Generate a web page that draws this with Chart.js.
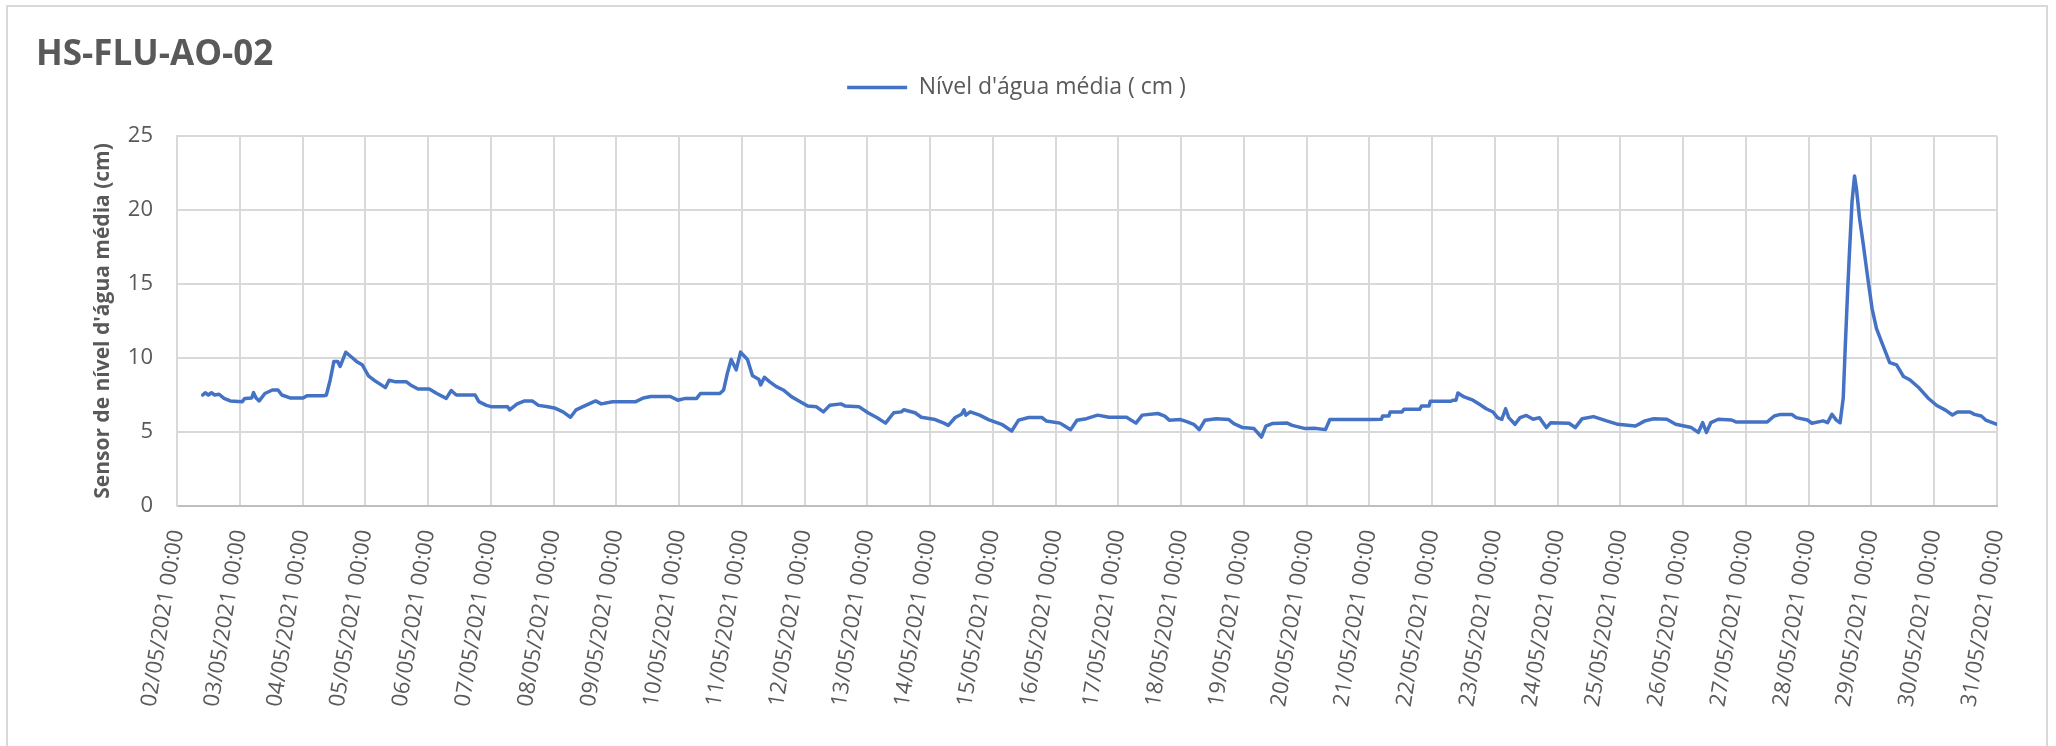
<!DOCTYPE html>
<html>
<head>
<meta charset="utf-8">
<title>HS-FLU-AO-02</title>
<script src="https://cdn.jsdelivr.net/npm/chart.js@4.4.1/dist/chart.umd.min.js"></script>
<style>
  html, body { margin: 0; padding: 0; background: #fff; overflow: hidden; }
  #moldura { position: absolute; left: 6px; top: 5px; width: 2042px; height: 770px; border: 2px solid #d9d9d9; box-sizing: border-box; }
  #grafico { position: absolute; left: 0; top: 0; }
</style>
</head>
<body>
<div id="moldura"></div>
<canvas id="grafico" width="2056" height="746"></canvas>
<script>
// Rótulos do eixo X (um por dia)
const rotulosDias = [
    "02/05/2021 00:00", "03/05/2021 00:00", "04/05/2021 00:00", "05/05/2021 00:00", "06/05/2021 00:00",
    "07/05/2021 00:00", "08/05/2021 00:00", "09/05/2021 00:00", "10/05/2021 00:00", "11/05/2021 00:00",
    "12/05/2021 00:00", "13/05/2021 00:00", "14/05/2021 00:00", "15/05/2021 00:00", "16/05/2021 00:00",
    "17/05/2021 00:00", "18/05/2021 00:00", "19/05/2021 00:00", "20/05/2021 00:00", "21/05/2021 00:00",
    "22/05/2021 00:00", "23/05/2021 00:00", "24/05/2021 00:00", "25/05/2021 00:00", "26/05/2021 00:00",
    "27/05/2021 00:00", "28/05/2021 00:00", "29/05/2021 00:00", "30/05/2021 00:00", "31/05/2021 00:00"
];

// Tempo das leituras (dias desde 02/05/2021 00:00)
const tempoDias = [
    0.41, 0.45, 0.50, 0.55, 0.60, 0.67, 0.75, 0.85, 1.04, 1.08, 1.19, 1.22, 1.26, 1.31, 1.40, 1.52, 1.61, 1.67, 1.80, 2.01,
    2.07, 2.34, 2.38, 2.44, 2.50, 2.56, 2.60, 2.69, 2.77, 2.86, 2.95, 3.05, 3.14, 3.23, 3.32, 3.38, 3.47, 3.65, 3.72, 3.84,
    4.02, 4.14, 4.29, 4.37, 4.45, 4.75, 4.81, 4.93, 5.02, 5.27, 5.30, 5.42, 5.54, 5.66, 5.76, 5.91, 6.03, 6.15, 6.27, 6.36,
    6.46, 6.67, 6.76, 6.94, 7.31, 7.43, 7.55, 7.86, 7.98, 8.10, 8.28, 8.34, 8.65, 8.71, 8.77, 8.83, 8.91, 8.98, 9.09, 9.17,
    9.27, 9.30, 9.36, 9.44, 9.55, 9.66, 9.79, 9.91, 10.05, 10.19, 10.30, 10.40, 10.58, 10.65, 10.87, 11.01, 11.15, 11.29, 11.42, 11.54,
    11.58, 11.76, 11.86, 12.08, 12.22, 12.29, 12.40, 12.50, 12.54, 12.57, 12.64, 12.79, 12.93, 13.14, 13.30, 13.41, 13.57, 13.78, 13.85, 14.07,
    14.17, 14.24, 14.34, 14.49, 14.67, 14.85, 15.13, 15.28, 15.38, 15.63, 15.74, 15.81, 15.99, 16.09, 16.20, 16.29, 16.38, 16.56, 16.76, 16.84,
    16.98, 17.16, 17.28, 17.35, 17.45, 17.69, 17.77, 17.98, 18.12, 18.30, 18.37, 18.70, 19.00, 19.19, 19.21, 19.31, 19.33, 19.52, 19.55, 19.80,
    19.83, 19.95, 19.97, 20.30, 20.33, 20.38, 20.41, 20.51, 20.65, 20.76, 20.86, 20.97, 21.04, 21.11, 21.17, 21.22, 21.32, 21.40, 21.50, 21.61,
    21.71, 21.82, 21.89, 22.18, 22.28, 22.39, 22.57, 22.78, 22.96, 23.24, 23.39, 23.53, 23.74, 23.88, 24.13, 24.24, 24.31, 24.37, 24.44, 24.56,
    24.77, 24.84, 25.34, 25.45, 25.55, 25.73, 25.80, 25.98, 26.05, 26.23, 26.30, 26.37, 26.44, 26.50, 26.55, 26.58, 26.62, 26.65, 26.69, 26.73,
    26.76, 26.81, 26.87, 26.94, 27.01, 27.08, 27.17, 27.29, 27.40, 27.51, 27.61, 27.76, 27.90, 28.04, 28.18, 28.29, 28.37, 28.57, 28.64, 28.75,
    28.82, 29.00
];

// Nível d'água média (cm)
const nivelCm = [
    7.5, 7.65, 7.5, 7.65, 7.5, 7.55, 7.27, 7.1, 7.05, 7.27, 7.3, 7.66, 7.3, 7.1, 7.6, 7.84, 7.84, 7.5, 7.3, 7.3,
    7.45, 7.45, 7.5, 8.5, 9.77, 9.77, 9.43, 10.39, 10.1, 9.77, 9.55, 8.8, 8.5, 8.25, 8.0, 8.5, 8.4, 8.4, 8.18, 7.9,
    7.9, 7.6, 7.27, 7.8, 7.5, 7.5, 7.05, 6.8, 6.7, 6.7, 6.5, 6.9, 7.1, 7.1, 6.8, 6.7, 6.6, 6.36, 6.0, 6.5,
    6.7, 7.1, 6.9, 7.05, 7.05, 7.3, 7.4, 7.4, 7.15, 7.27, 7.27, 7.6, 7.6, 7.84, 8.98, 9.9, 9.2, 10.4, 9.9, 8.8,
    8.57, 8.18, 8.7, 8.4, 8.07, 7.84, 7.39, 7.1, 6.75, 6.7, 6.36, 6.8, 6.9, 6.75, 6.7, 6.3, 5.98, 5.6, 6.3, 6.36,
    6.5, 6.3, 6.0, 5.84, 5.6, 5.45, 5.98, 6.2, 6.5, 6.14, 6.36, 6.14, 5.84, 5.52, 5.07, 5.8, 5.98, 5.98, 5.75, 5.6,
    5.34, 5.16, 5.8, 5.9, 6.14, 6.0, 6.0, 5.6, 6.14, 6.25, 6.07, 5.8, 5.84, 5.7, 5.52, 5.16, 5.8, 5.9, 5.84, 5.57,
    5.3, 5.23, 4.66, 5.4, 5.57, 5.6, 5.45, 5.23, 5.25, 5.16, 5.84, 5.84, 5.84, 5.86, 6.08, 6.08, 6.35, 6.35, 6.53, 6.53,
    6.75, 6.75, 7.08, 7.08, 7.15, 7.15, 7.64, 7.37, 7.15, 6.86, 6.57, 6.35, 5.97, 5.86, 6.57, 5.97, 5.52, 5.97, 6.12, 5.86,
    5.97, 5.3, 5.63, 5.59, 5.3, 5.9, 6.04, 5.75, 5.52, 5.41, 5.75, 5.9, 5.86, 5.52, 5.3, 4.97, 5.63, 4.97, 5.63, 5.86,
    5.81, 5.68, 5.68, 6.08, 6.19, 6.19, 5.97, 5.81, 5.59, 5.75, 5.63, 6.19, 5.8, 5.63, 7.3, 10.53, 14.54, 17.2, 20.56, 22.3,
    21.45, 19.44, 17.66, 15.43, 13.32, 11.98, 10.98, 9.69, 9.53, 8.75, 8.53, 7.97, 7.3, 6.79, 6.48, 6.15, 6.35, 6.35, 6.19, 6.08,
    5.81, 5.52
];

const cinzaTexto = "#595959";
const cinzaGrade = "#d9d9d9";

// Espaço extra entre a legenda e a área do gráfico
const espacoLegenda = {
    id: "espacoLegenda",
    beforeInit(chart) {
        const fitOriginal = chart.legend.fit;
        chart.legend.fit = function () {
            fitOriginal.call(this);
            this.height += 27;
        };
    }
};

const pontos = tempoDias.map((t, i) => ({ x: t, y: nivelCm[i] }));

new Chart(document.getElementById("grafico").getContext("2d"), {
    type: "line",
    data: {
        datasets: [{
            label: "Nível d'água média ( cm )",
            data: pontos,
            borderColor: "#4472C4",
            backgroundColor: "#4472C4",
            borderWidth: 3.5,
            borderJoinStyle: "round",
            borderCapStyle: "round",
            pointRadius: 0,
            tension: 0,
            fill: false
        }]
    },
    options: {
        responsive: false,
        animation: false,
        devicePixelRatio: 1,
        layout: { padding: { left: 36, right: 59, top: 0, bottom: 0 } },
        plugins: {
            title: {
                display: true,
                text: "HS-FLU-AO-02",
                align: "start",
                color: cinzaTexto,
                font: { family: "Open Sans", size: 35, weight: "bold", lineHeight: 1.2 },
                padding: { top: 34, bottom: 0 }
            },
            legend: {
                display: true,
                position: "top",
                labels: {
                    usePointStyle: true,
                    pointStyle: "line",
                    pointStyleWidth: 60,
                    padding: 0,
                    color: cinzaTexto,
                    font: { family: "Open Sans", size: 23 }
                }
            },
            tooltip: { enabled: false }
        },
        scales: {
            x: {
                type: "linear",
                min: 0,
                max: 29,
                afterFit(scale) { scale.height = 240; },
                grid: { color: cinzaGrade, lineWidth: 2, drawTicks: false },
                border: { color: "#bfbfbf", width: 2 },
                ticks: {
                    stepSize: 1,
                    autoSkip: false,
                    minRotation: 81,
                    maxRotation: 81,
                    padding: 22,
                    color: cinzaTexto,
                    font: { family: "Open Sans", size: 22 },
                    callback: (valor) => rotulosDias[valor]
                }
            },
            y: {
                min: 0,
                max: 25,
                afterFit(scale) { scale.width = 141; },
                grid: { color: cinzaGrade, lineWidth: 2, drawTicks: false },
                border: { color: cinzaGrade, width: 2 },
                ticks: {
                    stepSize: 5,
                    padding: 24,
                    color: cinzaTexto,
                    font: { family: "Open Sans", size: 22 }
                },
                title: {
                    display: true,
                    text: "Sensor de nível d'água média (cm)",
                    color: cinzaTexto,
                    font: { family: "Open Sans", size: 21, weight: "bold", lineHeight: 1.2 },
                    padding: { top: 54, bottom: 0 }
                }
            }
        }
    },
    plugins: [espacoLegenda]
});
</script>
</body>
</html>
